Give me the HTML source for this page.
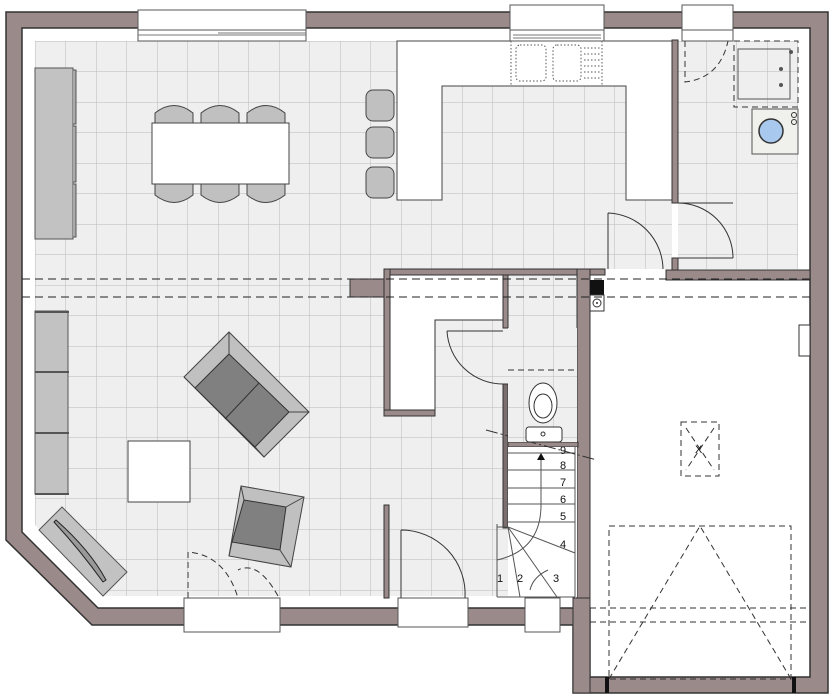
<!DOCTYPE html>
<html><head><meta charset="utf-8"><style>
html,body{margin:0;padding:0;background:#fff}
svg{display:block}
text{font-family:"Liberation Sans",sans-serif;font-size:11px;fill:#111}
</style></head><body>
<svg width="833" height="700" viewBox="0 0 833 700" xmlns="http://www.w3.org/2000/svg">
<defs>
<pattern id="tile" x="35" y="41" width="30.5" height="30.5" patternUnits="userSpaceOnUse">
<rect width="30.5" height="30.5" fill="#efefef"/>
<path d="M0 0H30.5M0 0V30.5" stroke="#b8b8b8" stroke-width="1"/>
</pattern>
</defs>
<path d="M6 12H828V693H573V625H92L6 540Z" fill="#9a8a8a" stroke="#333" stroke-width="1.5"/>
<path d="M22 28H810V677H590V608H98L22 532Z" fill="#fff" stroke="#333" stroke-width="1.5"/>
<path d="M35 41H672V269H577V596H103L35 525Z" fill="url(#tile)"/>
<rect x="678" y="41" width="120" height="228" fill="url(#tile)"/>
<path d="M397 41H672V200H626V86H442V200H397Z" fill="#fff" stroke="#444" stroke-width="1"/>
<g fill="none" stroke="#555" stroke-dasharray="1.5 2">
<rect x="516" y="45" width="30" height="36" rx="4"/><rect x="553" y="45" width="28" height="36" rx="4"/>
<path d="M511 41V86M602 41V86"/>
<path d="M584 48H600M584 54H600M584 60H600M584 66H600M584 72H600M584 78H600"/>
</g>
<g fill="#fff" stroke="#555">
<rect x="138" y="10" width="168" height="20"/><rect x="138" y="30" width="168" height="11"/>
<rect x="510" y="5" width="94" height="25"/><rect x="510" y="30" width="94" height="11"/>
<rect x="682" y="5" width="51" height="25"/><rect x="682" y="30" width="51" height="11"/>
<rect x="184" y="598" width="96" height="34"/>
<rect x="398" y="598" width="70" height="29"/>
<rect x="525" y="598" width="35" height="34"/>
</g>
<path d="M138 35H306M218 33H306M513 35H601M513 38H601" stroke="#777" fill="none"/>
<g fill="#9a8a8a" stroke="#333" stroke-width="1">
<rect x="672" y="40" width="6" height="163"/><rect x="672" y="258" width="6" height="12"/>
<rect x="666" y="270" width="144" height="10"/>
<rect x="384" y="269" width="221" height="6"/>
<rect x="350" y="279" width="40" height="18"/>
<rect x="384" y="269" width="6" height="147"/>
<rect x="384" y="410" width="51" height="6"/>
<rect x="503" y="275" width="5" height="53"/>
<rect x="503" y="384" width="5" height="144" fill="#7a6e6e"/>
<rect x="577" y="269" width="13" height="329"/>
<rect x="573" y="598" width="17" height="95"/>
<rect x="508" y="442" width="70" height="5"/>
<rect x="384" y="505" width="5" height="93"/>
</g>
<path d="M390 275H503V320H435V410H390Z" fill="#fff" stroke="#333"/>
<rect x="590" y="280" width="14" height="15" fill="#111"/>
<rect x="590" y="295" width="14" height="16" fill="#fff" stroke="#333"/>
<circle cx="597" cy="303" r="4" fill="none" stroke="#333"/><circle cx="597" cy="303" r="1" fill="#333"/>
<g stroke="#222" stroke-dasharray="8 5" fill="none">
<path d="M22 279H810M22 297H810"/>
</g>
<rect x="508" y="447" width="69" height="150" fill="#fff"/>
<g stroke="#555" fill="none">
<path d="M508 453H575M508 470H575M508 488H575M508 504H575M508 522H575"/>
<path d="M575 447V597M497 524V597M497 597H575"/>
<path d="M508 527L575 553M508 527L557 597M508 527L520 597M508 527L497 527"/>
<path d="M541 455V505Q541 550 497 560" />
<path d="M530 590Q533 577 548 570"/>
</g>
<path d="M537 460L541 453L545 460Z" fill="#111"/>
<g>
<text x="560" y="469">8</text><text x="560" y="486">7</text><text x="560" y="503">6</text><text x="560" y="520">5</text><text x="560" y="548">4</text>
<text x="497" y="582">1</text><text x="517" y="582">2</text><text x="553" y="582">3</text><text x="560" y="454">9</text>
</g>
<path d="M486 430L597 460" stroke="#333" stroke-dasharray="12 3 2 3" fill="none"/>
<rect x="508" y="328" width="69" height="114" fill="url(#tile)"/>
<path d="M508 370H577" stroke="#333" stroke-dasharray="6 4"/>
<rect x="526" y="427" width="36" height="15" rx="3" fill="#fff" stroke="#333"/>
<ellipse cx="543" cy="403" rx="14" ry="20" fill="#fff" stroke="#333"/>
<ellipse cx="543" cy="406" rx="9" ry="12" fill="none" stroke="#333"/>
<circle cx="543" cy="434" r="2" fill="none" stroke="#333"/>
<g stroke="#333" fill="none">
<path d="M608 213V269M608 213A57 57 0 0 1 663 269"/>
<path d="M678 203H733M678 258H733M733 258A55 55 0 0 0 678 203"/>
<path d="M447 331H503M447 331A56 56 0 0 0 503 384"/>
<path d="M401 530V598M401 530A64 64 0 0 1 465 598"/>
</g>
<g stroke="#333" fill="none" stroke-dasharray="6 4">
<path d="M685 41V82Q720 78 728 41"/>
<rect x="734" y="41" width="64" height="66"/>
<path d="M188 598V552Q225 555 238 598M278 596Q258 560 238 570"/>
<rect x="681" y="422" width="38" height="54"/>
<path d="M686 428L714 470M714 428L686 470"/>
<rect x="609" y="526" width="182" height="153"/>
<path d="M609 679L700 526L791 679"/>
<path d="M590 608H810M590 622H810"/>
</g>
<text x="695" y="453" style="font-size:11px">X</text>
<rect x="738" y="49" width="52" height="50" fill="none" stroke="#555"/>
<circle cx="791" cy="52" r="2" fill="#555"/><circle cx="781" cy="69" r="2" fill="#555"/><circle cx="781" cy="85" r="2" fill="#555"/>
<rect x="752" y="109" width="46" height="45" fill="#f0f0ec" stroke="#555"/>
<circle cx="771" cy="131" r="12" fill="#a8c8ee" stroke="#333" stroke-width="1.5"/>
<circle cx="794" cy="115" r="2.5" fill="none" stroke="#333"/><circle cx="794" cy="122" r="2.5" fill="none" stroke="#333"/>
<rect x="799" y="325" width="11" height="31" fill="#fff" stroke="#333"/>
<rect x="605" y="677" width="4" height="16" fill="#111"/><rect x="792" y="677" width="4" height="16" fill="#111"/>
<rect x="35" y="68" width="38" height="171" fill="#c2c2c2" stroke="#555"/>
<path d="M73 70H76V124H73M73 126H76V182H73M73 184H76V237H73" fill="#aaa" stroke="#555"/>
<g fill="#c0c0c0" stroke="#444">
<path d="M155 124V113Q174 98 193 113V124Z"/><path d="M201 124V113Q220 98 239 113V124Z"/><path d="M247 124V113Q266 98 285 113V124Z"/>
<path d="M155 184V195Q174 210 193 195V184Z"/><path d="M201 184V195Q220 210 239 195V184Z"/><path d="M247 184V195Q266 210 285 195V184Z"/>
<rect x="366" y="90" width="28" height="31" rx="7"/><rect x="366" y="127" width="28" height="31" rx="7"/><rect x="366" y="167" width="28" height="31" rx="7"/>
</g>
<rect x="152" y="123" width="137" height="61" fill="#fff" stroke="#444"/>
<rect x="35" y="311" width="33" height="183" fill="#c2c2c2" stroke="#555"/>
<path d="M35 312H69M35 372H69M35 433H69M35 494H69" stroke="#555" stroke-width="2"/>
<rect x="128" y="441" width="62" height="61" fill="#fff" stroke="#444"/>
<path d="M229 332L309 412L264 457L184 377Z" fill="#c0c0c0" stroke="#444"/>
<path d="M229 354L289 412L255 447L195 388Z" fill="#808080" stroke="#333"/>
<path d="M259 383L225 419" stroke="#333"/>
<path d="M229 332V354M309 412H289M264 457L255 447M184 377L195 388" stroke="#444"/>
<path d="M241 486L304 497L291 567L229 556Z" fill="#c0c0c0" stroke="#444"/>
<path d="M244 500L286 507L280 550L232 542Z" fill="#808080" stroke="#333"/>
<path d="M241 486L244 500M304 497L286 507M291 567L280 550M229 556L232 542" stroke="#444"/>
<path d="M39 530L62 507L127 572L103 596Z" fill="#c2c2c2" stroke="#555"/>
<path d="M56 520Q90 550 106 580L103 582Q80 550 54 522Z" fill="#999" stroke="#222"/>
</svg>
</body></html>
